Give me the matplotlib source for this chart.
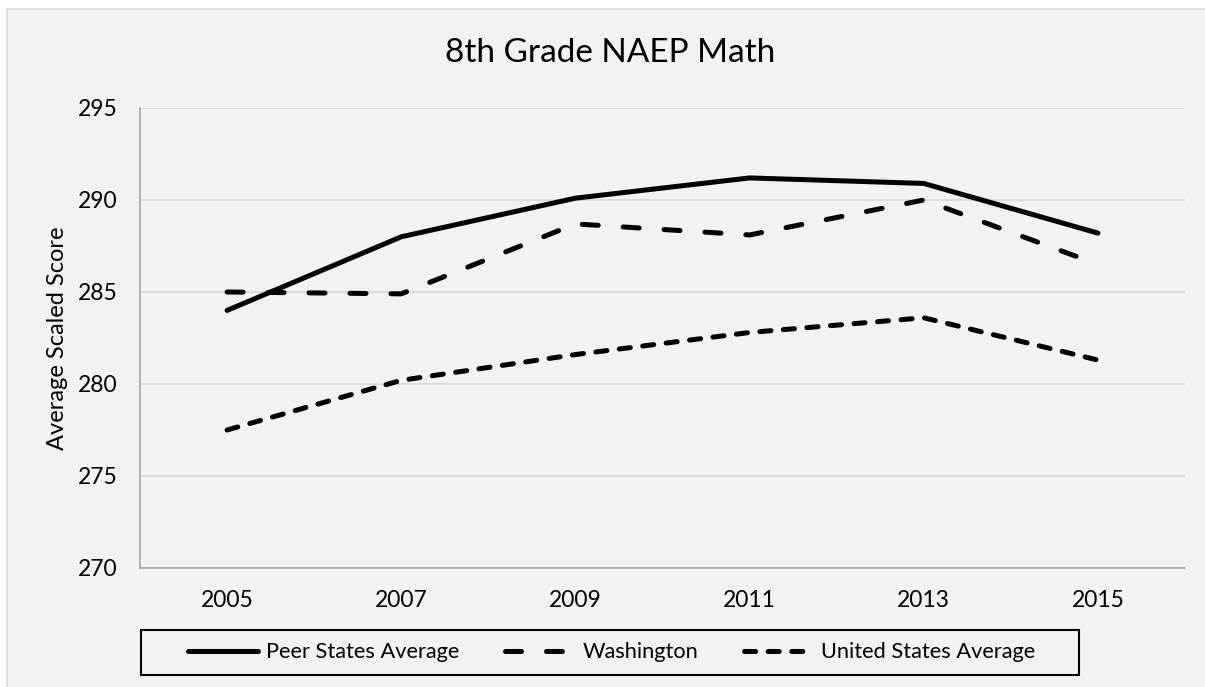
import numpy as np
import matplotlib
matplotlib.use("Agg")
import matplotlib.pyplot as plt
from matplotlib.patches import Rectangle

plt.rcParams['font.family'] = ['Lato', 'DejaVu Sans']
plt.rcParams['lines.scale_dashes'] = False

# data
years = ['2005', '2007', '2009', '2011', '2013', '2015']
peer_states = [284.0, 288.0, 290.1, 291.2, 290.9, 288.2]
washington = [285.0, 284.9, 288.7, 288.1, 290.0, 286.5]
us_average = [277.5, 280.2, 281.6, 282.8, 283.6, 281.3]
series_names = ['Peer States Average', 'Washington', 'United States Average']

W, H = 1205, 687
fig = plt.figure(figsize=(W / 100, H / 100), dpi=100, facecolor='white')

# chart area background with thin border (only top and left edges visible)
bg = Rectangle((7 / W, -0.1), 1.2, (H - 9) / H + 0.1, transform=fig.transFigure,
               facecolor='#f2f2f2', edgecolor='#d9d9d9', lw=1.2, zorder=-10)
fig.patches.append(bg)

ax = fig.add_axes([140 / W, (H - 568) / H, 1045 / W, 460 / H])
ax.set_facecolor('#f2f2f2')

x = np.arange(len(years))
lw = 3.6
ax.plot(x, peer_states, color='black', lw=lw, solid_capstyle='round',
        solid_joinstyle='round', label=series_names[0])
ax.plot(x, washington, color='black', lw=lw, dashes=(11.5, 18),
        dash_capstyle='round', dash_joinstyle='round', label=series_names[1])
ax.plot(x, us_average, color='black', lw=lw, dashes=(8, 9),
        dash_capstyle='round', dash_joinstyle='round', label=series_names[2])

ax.set_xlim(-0.5, len(years) - 0.5)
ax.set_ylim(270, 295)
ax.set_yticks(np.arange(270, 296, 5))
ax.set_xticks(x)
ax.set_xticklabels(years)

ax.grid(axis='y', color='#d9d9d9', lw=1.3)
ax.set_axisbelow(True)
for s in ['top', 'right']:
    ax.spines[s].set_visible(False)
ax.spines['left'].set_color('#a6a6a6')
ax.spines['bottom'].set_color('#a6a6a6')
ax.spines['left'].set_linewidth(1.2)
ax.spines['bottom'].set_linewidth(1.2)
ax.tick_params(axis='both', length=0, labelsize=16.5, colors='black')
ax.tick_params(axis='y', pad=16)
ax.tick_params(axis='x', pad=16)

fig.text(58 / W, (H - 338) / H, 'Average Scaled Score', rotation=90,
         ha='center', va='center', fontsize=17)
fig.text(610 / W, (H - 53) / H, '8th Grade NAEP Math', ha='center',
         va='center', fontsize=24)

# legend box drawn separately so its size matches the reference
box = Rectangle((141 / W, (H - 675) / H), 938 / W, 45 / H,
                transform=fig.transFigure, facecolor='#f2f2f2',
                edgecolor='black', lw=1.5, zorder=5)
fig.patches.append(box)
leg = fig.legend(loc='center', bbox_to_anchor=(612 / W, (H - 652.5) / H),
                 ncol=3, fontsize=15.7, frameon=False, handlelength=3.2,
                 handletextpad=0.35, columnspacing=2.1, borderpad=0,
                 borderaxespad=0)
leg.set_zorder(6)

fig.savefig('out.png', dpi=100, facecolor='white')
